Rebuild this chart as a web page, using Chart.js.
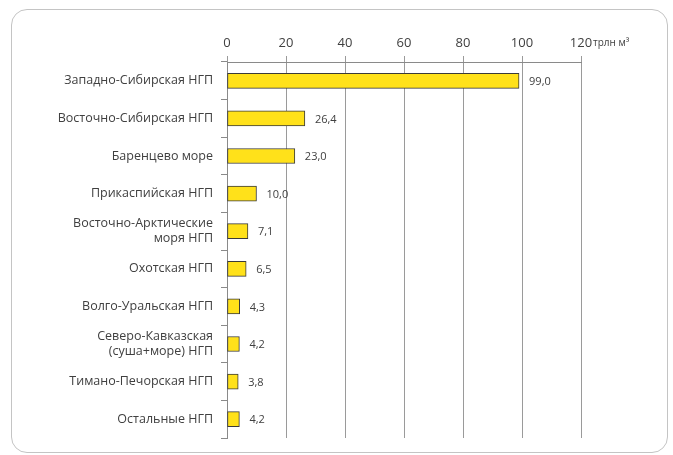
<!DOCTYPE html>
<html>
<head>
<meta charset="utf-8">
<script src="https://cdn.jsdelivr.net/npm/chart.js@4"></script>
<style>
  body { margin: 0; background: #fff; }
  #wrap { position: relative; width: 673px; height: 455px; }
  #frame { position: absolute; left: 11px; top: 9px; width: 655px; height: 442px;
           border: 1px solid #c4c4c4; border-radius: 16px; }
  #grafico { position: absolute; left: 0; top: 0; }
</style>
</head>
<body>
<div id="wrap">
  <div id="frame"></div>
  <canvas id="grafico" width="673" height="455"></canvas>
</div>
<script>
const ctx = document.getElementById('grafico');

// категории и значения (трлн м³)
const regioni = [
  'Западно-Сибирская НГП',
  'Восточно-Сибирская НГП',
  'Баренцево море',
  'Прикаспийская НГП',
  ['Восточно-Арктические', 'моря НГП'],
  'Охотская НГП',
  'Волго-Уральская НГП',
  ['Северо-Кавказская', '(суша+море) НГП'],
  'Тимано-Печорская НГП',
  'Остальные НГП'
];
const zapasy = [99.0, 26.4, 23.0, 10.0, 7.1, 6.5, 4.3, 4.2, 3.8, 4.2];
const unidade = 'трлн м³';
const eixoMax = 120;
const eixoPasso = 20;

const fonte = '"Open Sans", sans-serif';
const cinza = '#404040';

// подписи значений справа от столбцов
const rotulos = {
  id: 'rotulos',
  afterDatasetsDraw(chart) {
    const c = chart.ctx;
    const meta = chart.getDatasetMeta(0);
    c.save();
    c.font = '11px ' + fonte;
    c.fillStyle = cinza;
    c.textBaseline = 'middle';
    meta.data.forEach((bar, i) => {
      const txt = zapasy[i].toFixed(1).replace('.', ',');
      c.fillText(txt, bar.x + 10, bar.y + 1);
    });
    // единица измерения после последней отметки оси
    const xs = chart.scales.x;
    c.font = '10px ' + fonte;
    c.textBaseline = 'alphabetic';
    c.fillText(unidade, xs.getPixelForValue(eixoMax) + 12, 46);
    c.restore();
  }
};

new Chart(ctx, {
  type: 'bar',
  data: {
    labels: regioni,
    datasets: [{
      data: zapasy,
      backgroundColor: '#FFE11A',
      borderColor: '#3a3a3a',
      borderWidth: 1,
      borderSkipped: false,
      barThickness: 15
    }]
  },
  options: {
    indexAxis: 'y',
    responsive: false,
    animation: false,
    layout: { padding: { left: 0, right: 92, top: 0, bottom: 17 } },
    plugins: {
      legend: { display: false },
      tooltip: { enabled: false }
    },
    scales: {
      x: {
        position: 'top',
        min: 0,
        max: eixoMax,
        ticks: {
          stepSize: eixoPasso,
          color: cinza,
          font: { family: fonte, size: 13 },
          padding: 5,
          maxRotation: 0
        },
        grid: { color: '#9a9a9a', lineWidth: 1, tickLength: 6, drawTicks: true },
        border: { display: true, color: '#8a8a8a' },
        afterFit(s) { s.height = 62; }
      },
      y: {
        ticks: {
          color: cinza,
          font: { family: fonte, size: 12.5 },
          padding: 8
        },
        grid: { offset: true, drawOnChartArea: false, tickLength: 6, color: '#8a8a8a' },
        border: { display: true, color: '#8a8a8a' },
        afterFit(s) { s.width = 227; }
      }
    }
  },
  plugins: [rotulos]
});
</script>
</body>
</html>
